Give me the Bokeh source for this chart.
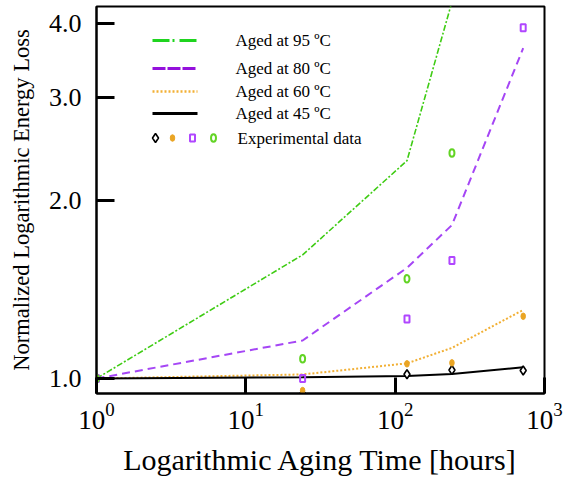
from bokeh.plotting import figure
from bokeh.models import (Range1d, LinearScale, FixedTicker, PrintfTickFormatter,
                          LogTickFormatter)
from bokeh.core.properties import value
from bokeh.embed import file_html
from bokeh.resources import INLINE

# Aging times (hours)
hours = [1, 24, 120, 240, 720]
hours_95 = [1, 24, 120, 240]

# Model curves: normalized logarithmic energy loss
model_95 = [1.0, 1.62, 2.34, 4.35]
model_80 = [1.0, 1.16, 1.54, 1.82, 3.63]
model_60 = [1.0, 1.016, 1.061, 1.127, 1.307]
model_45 = [1.0, 1.005, 1.010, 1.018, 1.045]

# Experimental data
exp_45 = [1.0, 0.942, 1.017, 1.034, 1.032]
exp_60 = [1.0, 0.954, 1.059, 1.063, 1.275]
exp_80 = [1.0, 1.0, 1.262, 1.585, 3.93]
exp_95 = [1.0, 1.080, 1.476, 2.41]

x_ticks = [1, 10, 100, 1000]
y_ticks = [1.0, 2.0, 3.0, 4.0]

legend_labels = ["Aged at 95 \u00baC", "Aged at 80 \u00baC", "Aged at 60 \u00baC",
                 "Aged at 45 \u00baC", "Experimental data"]

GREEN_LINE = "#3fcc14"
GREEN_LEG = "#1fd41f"
PURPLE_LINE = "#a546f5"
PURPLE_LEG = "#9410dc"
PURPLE_MK = "#b046ff"
ORANGE = "#f2b035"
ORANGE_MK = "#eaa524"
GREEN_MK = "#62d424"
SERIF = "Liberation Serif"

W, H = 569, 488
BL, BR, BT, BB = 96, 25, 6, 95
FW, FH = W - BL - BR, H - BT - BB

p = figure(width=W, height=H, x_axis_type="log", y_axis_type="log",
           x_range=Range1d(1, 1000), y_range=Range1d(0.9432, 4.271),
           output_backend="svg", toolbar_location=None,
           min_border_left=BL, min_border_right=BR,
           min_border_top=BT, min_border_bottom=BB)
p.grid.visible = False
p.outline_line_color = "black"
p.outline_line_width = 2
p.outline_line_alpha = 1.0
p.background_fill_color = "white"
p.border_fill_color = "white"

# pixel-like helper ranges for the legend block
p.extra_x_ranges = {"px": Range1d(0, FW)}
p.extra_x_scales = {"px": LinearScale()}
p.extra_y_ranges = {"py": Range1d(FH, 0)}
p.extra_y_scales = {"py": LinearScale()}

# axes
p.xaxis.ticker = FixedTicker(ticks=x_ticks, minor_ticks=[])
p.xaxis.formatter = LogTickFormatter()
p.yaxis.ticker = FixedTicker(ticks=y_ticks, minor_ticks=[])
p.yaxis.formatter = PrintfTickFormatter(format="%.1f")
for ax in (p.xaxis, p.yaxis):
    ax.axis_line_width = 2
    ax.axis_line_color = "black"
    ax.major_tick_out = 0
    ax.major_tick_line_width = 3
    ax.major_tick_line_color = "black"
    ax.minor_tick_line_color = None
    ax.major_label_text_font = SERIF
    ax.major_label_text_font_size = "26px"
    ax.major_label_text_color = "black"
    ax.axis_label_text_font = SERIF
    ax.axis_label_text_font_style = "normal"
    ax.axis_label_text_color = "black"
p.xaxis.major_tick_in = 16
p.yaxis.major_tick_in = 18
p.xaxis.major_label_text_font_size = "27px"
p.xaxis.major_label_standoff = 9
p.yaxis.major_label_standoff = 15
p.xaxis.axis_label = "Logarithmic Aging Time [hours]"
p.xaxis.axis_label_text_font_size = "30px"
p.xaxis.axis_label_standoff = 11
p.yaxis.axis_label = "Normalized Logarithmic Energy Loss"
p.yaxis.axis_label_text_font_size = "22.5px"
p.yaxis.axis_label_standoff = 12

# model curves
p.line(hours_95, model_95, line_color=GREEN_LINE, line_width=1.6, line_dash="6 2 2 2")
p.line(hours, model_80, line_color=PURPLE_LINE, line_width=2, line_dash="8 5")
p.line(hours, model_60, line_color=ORANGE, line_width=2, line_dash="2 2")
p.line(hours, model_45, line_color="black", line_width=2)

# experimental points
p.scatter(hours, exp_45, marker="diamond", size=9, fill_color="white",
          line_color="black", line_width=1.6)
p.ellipse(hours, exp_60, width=4.5, height=6.5, width_units="screen",
          height_units="screen", fill_color=ORANGE_MK, line_color=ORANGE_MK)
p.rect(hours, exp_80, width=5, height=7, width_units="screen", height_units="screen",
       fill_color=None, line_color=PURPLE_MK, line_width=2)
p.ellipse(hours_95, exp_95, width=5, height=7.5, width_units="screen",
          height_units="screen", fill_color=None, line_color=GREEN_MK, line_width=2)

# legend block
lx0, lx1 = 56, 101
rows = [34, 62, 85, 107, 131.5]
leg = dict(x_range_name="px", y_range_name="py")
p.line([lx0, lx1], [rows[0]] * 2, line_color=GREEN_LEG, line_width=3,
       line_dash="17 3 2 5", **leg)
p.line([lx0, lx1], [rows[1]] * 2, line_color=PURPLE_LEG, line_width=3,
       line_dash="13 2", **leg)
p.line([lx0, lx1], [rows[2]] * 2, line_color=ORANGE, line_width=2.5,
       line_dash="2 2", **leg)
p.line([lx0, lx1], [rows[3]] * 2, line_color="black", line_width=3, **leg)
p.scatter([59], [rows[4]], marker="diamond", size=9, fill_color="white",
          line_color="black", line_width=1.6, **leg)
p.ellipse([76], [rows[4]], width=4.5, height=6.5, width_units="screen",
          height_units="screen", fill_color=ORANGE_MK, line_color=ORANGE_MK, **leg)
p.rect([96], [rows[4]], width=5, height=7, width_units="screen", height_units="screen",
       fill_color=None, line_color=PURPLE_MK, line_width=2, **leg)
p.ellipse([117], [rows[4]], width=5, height=7.5, width_units="screen",
          height_units="screen", fill_color=None, line_color=GREEN_MK, line_width=2, **leg)
p.text([139, 139, 139, 139, 141], rows, text=legend_labels,
       text_font=value(SERIF), text_font_size="17px", text_baseline="middle",
       text_color="black", **leg)

open("out.html", "w").write(file_html(p, INLINE))
